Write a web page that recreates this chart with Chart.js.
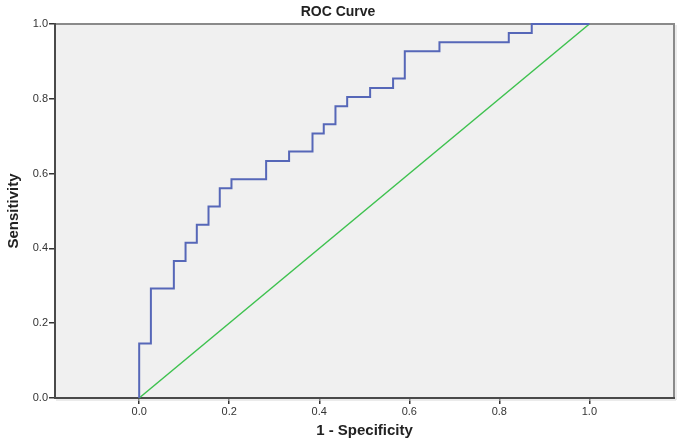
<!DOCTYPE html>
<html>
<head>
<meta charset="utf-8">
<script src="https://cdn.jsdelivr.net/npm/chart.js@4.4.1/dist/chart.umd.min.js"></script>
<style>
html,body{margin:0;padding:0;background:#fff;}
#wrap{width:682px;height:446px;position:relative;}
</style>
</head>
<body>
<div id="wrap"><canvas id="c" width="682" height="446"></canvas></div>
<script>
// ROC curve coordinates (1 - Specificity, Sensitivity); step drawn horizontally then vertically
const fpr = [0, 0, 0.026, 0.077, 0.103, 0.128, 0.154, 0.179, 0.205, 0.282, 0.333, 0.385, 0.410, 0.436, 0.462, 0.513, 0.564, 0.590, 0.667, 0.821, 0.872, 1.0];
const tpr = [0, 0.146, 0.293, 0.366, 0.415, 0.463, 0.512, 0.561, 0.585, 0.634, 0.659, 0.707, 0.732, 0.780, 0.805, 0.829, 0.854, 0.927, 0.951, 0.976, 1.0, 1.0];
// Reference line
const refX = [0, 1];
const refY = [0, 1];
const tickValues = [0, 0.2, 0.4, 0.6, 0.8, 1.0];
const titleText = 'ROC Curve';
const xTitle = '1 - Specificity';
const yTitle = 'Sensitivity';

const rocData = fpr.map((x, i) => ({x: x, y: tpr[i]}));
const refData = refX.map((x, i) => ({x: x, y: refY[i]}));

const bgPlugin = {
  id: 'bg',
  beforeDraw(chart) {
    const {ctx, chartArea: a} = chart;
    ctx.save();
    ctx.fillStyle = '#fff';
    ctx.fillRect(0, 0, chart.width, chart.height);
    ctx.fillStyle = '#f0f0f0';
    ctx.fillRect(a.left, a.top, a.right - a.left, a.bottom - a.top);
    ctx.restore();
  },
  beforeDatasetsDraw(chart) {
    const {ctx, chartArea: a} = chart;
    ctx.save();
    // top/right border with light shadow
    ctx.strokeStyle = '#d8d8d8';
    ctx.lineWidth = 1;
    ctx.beginPath();
    ctx.moveTo(a.right + 2, a.top + 1);
    ctx.lineTo(a.right + 2, a.bottom + 2);
    ctx.lineTo(a.left + 1, a.bottom + 2);
    ctx.stroke();
    ctx.strokeStyle = '#8a8a8a';
    ctx.lineWidth = 2;
    ctx.beginPath();
    ctx.moveTo(a.left, a.top);
    ctx.lineTo(a.right, a.top);
    ctx.lineTo(a.right, a.bottom);
    ctx.stroke();
    // axis lines
    ctx.strokeStyle = '#4a4a4a';
    ctx.beginPath();
    ctx.moveTo(a.left, a.top - 1);
    ctx.lineTo(a.left, a.bottom);
    ctx.lineTo(a.right + 1, a.bottom);
    ctx.stroke();
    ctx.restore();
  },
  afterDraw(chart) {
    const {ctx} = chart;
    ctx.save();
    ctx.fillStyle = '#222';
    ctx.font = 'bold 14px "Liberation Sans", Arial, sans-serif';
    ctx.textAlign = 'center';
    ctx.textBaseline = 'middle';
    ctx.fillText(titleText, 338, 12);
    ctx.restore();
  }
};

const tickFont = {family: '"Liberation Sans", Arial, sans-serif', size: 11};
const titleFont = {family: '"Liberation Sans", Arial, sans-serif', size: 15, weight: 'bold'};

new Chart(document.getElementById('c'), {
  type: 'scatter',
  data: {
    datasets: [
      {
        data: rocData,
        showLine: true,
        stepped: 'before',
        borderColor: '#5667b8',
        borderWidth: 2,
        pointRadius: 0,
        fill: false,
        clip: false,
        order: 1
      },
      {
        data: refData,
        showLine: true,
        borderColor: '#3ec24f',
        borderWidth: 1.5,
        pointRadius: 0,
        fill: false,
        clip: false,
        order: 2
      }
    ]
  },
  options: {
    responsive: false,
    animation: false,
    layout: {padding: {top: 24, right: 8, left: 0, bottom: 0}},
    plugins: {legend: {display: false}, tooltip: {enabled: false}, title: {display: false}},
    scales: {
      x: {
        type: 'linear',
        min: -0.187,
        max: 1.188,
        afterBuildTicks(scale) { scale.ticks = tickValues.map(v => ({value: v})); },
        afterFit(scale) { scale.height = 48; },
        ticks: {
          callback: v => Number(v).toFixed(1),
          color: '#333',
          font: tickFont,
          padding: 1,
          maxRotation: 0
        },
        grid: {display: true, drawOnChartArea: false, drawTicks: true, tickLength: 6, color: '#333', lineWidth: 1.5},
        border: {display: false},
        title: {display: true, text: xTitle, color: '#222', font: titleFont, padding: {top: 0, bottom: 6}}
      },
      y: {
        type: 'linear',
        min: 0,
        max: 1,
        afterBuildTicks(scale) { scale.ticks = tickValues.map(v => ({value: v})); },
        afterFit(scale) { scale.width = 55; },
        ticks: {
          callback: v => Number(v).toFixed(1),
          color: '#333',
          font: tickFont,
          padding: 1
        },
        grid: {display: true, drawOnChartArea: false, drawTicks: true, tickLength: 6, color: '#333', lineWidth: 1.5},
        border: {display: false},
        title: {display: true, text: yTitle, color: '#222', font: titleFont, padding: {top: 5, bottom: 0}}
      }
    }
  },
  plugins: [bgPlugin]
});
</script>
</body>
</html>
